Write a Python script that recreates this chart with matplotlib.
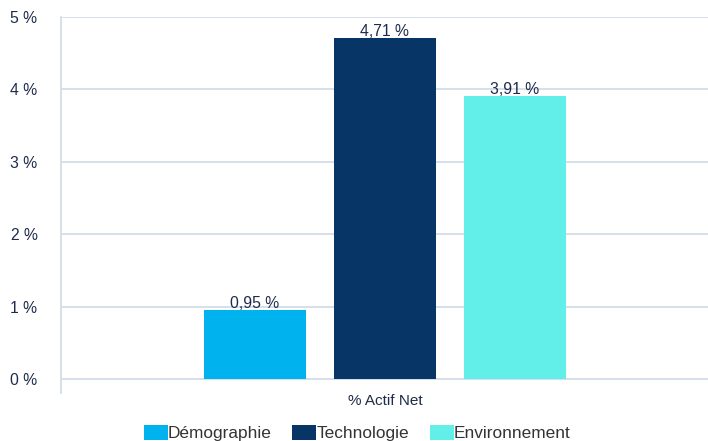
import matplotlib.pyplot as plt
from matplotlib.patches import Patch

# data
category = "% Actif Net"
series = ["Démographie", "Technologie", "Environnement"]
values = [0.95, 4.71, 3.91]
colors = ["#00B3EE", "#073565", "#62EFE9"]
yticks = [0, 1, 2, 3, 4, 5]

text_color = "#1E2B4A"
grid_color = "#D3DCE8"

plt.rcParams['font.family'] = ['Liberation Sans', 'DejaVu Sans']

fig = plt.figure(figsize=(7.08, 4.41), dpi=100)
ax = fig.add_axes([61 / 708, 1 - 393 / 441, 1 - 61 / 708, (393 - 17) / 441])

width = 102 / 647
step = 130 / 647
for i, (name, val, col) in enumerate(zip(series, values, colors)):
    x = (i - 1) * step
    ax.bar(x, val, width=width, color=col, zorder=3)
    ax.text(x, val - 0.01, f"{val:.2f} %".replace(".", ","), ha='center', va='bottom',
            fontsize=11.3, color=text_color, zorder=4)

ax.set_xlim(-0.5, 0.5)
ax.set_ylim(-0.19, 5)
ax.set_yticks(yticks)
ax.set_yticklabels([f"{t} %" for t in yticks], fontsize=11.3, color=text_color)
ax.set_xticks([])
ax.tick_params(axis='y', length=0, pad=17)
for y in yticks:
    ax.axhline(y, color=grid_color, linewidth=1.3, zorder=1)

for s in ['top', 'right', 'bottom']:
    ax.spines[s].set_visible(False)
ax.spines['left'].set_color(grid_color)
ax.spines['left'].set_linewidth(1.3)

fig.text(385 / 708, 1 - 401 / 441, category, ha='center', va='center',
         fontsize=11, color=text_color)

handles = [Patch(facecolor=c, edgecolor='none') for c in colors]
fig.legend(handles, series, loc='center', bbox_to_anchor=(357 / 708, 1 - 433 / 441),
           ncol=3, frameon=False, fontsize=12.4, handlelength=1.4, handleheight=1.0,
           handletextpad=0.0, columnspacing=1.2, labelcolor='#333333')

fig.savefig("out.png", dpi=100)
